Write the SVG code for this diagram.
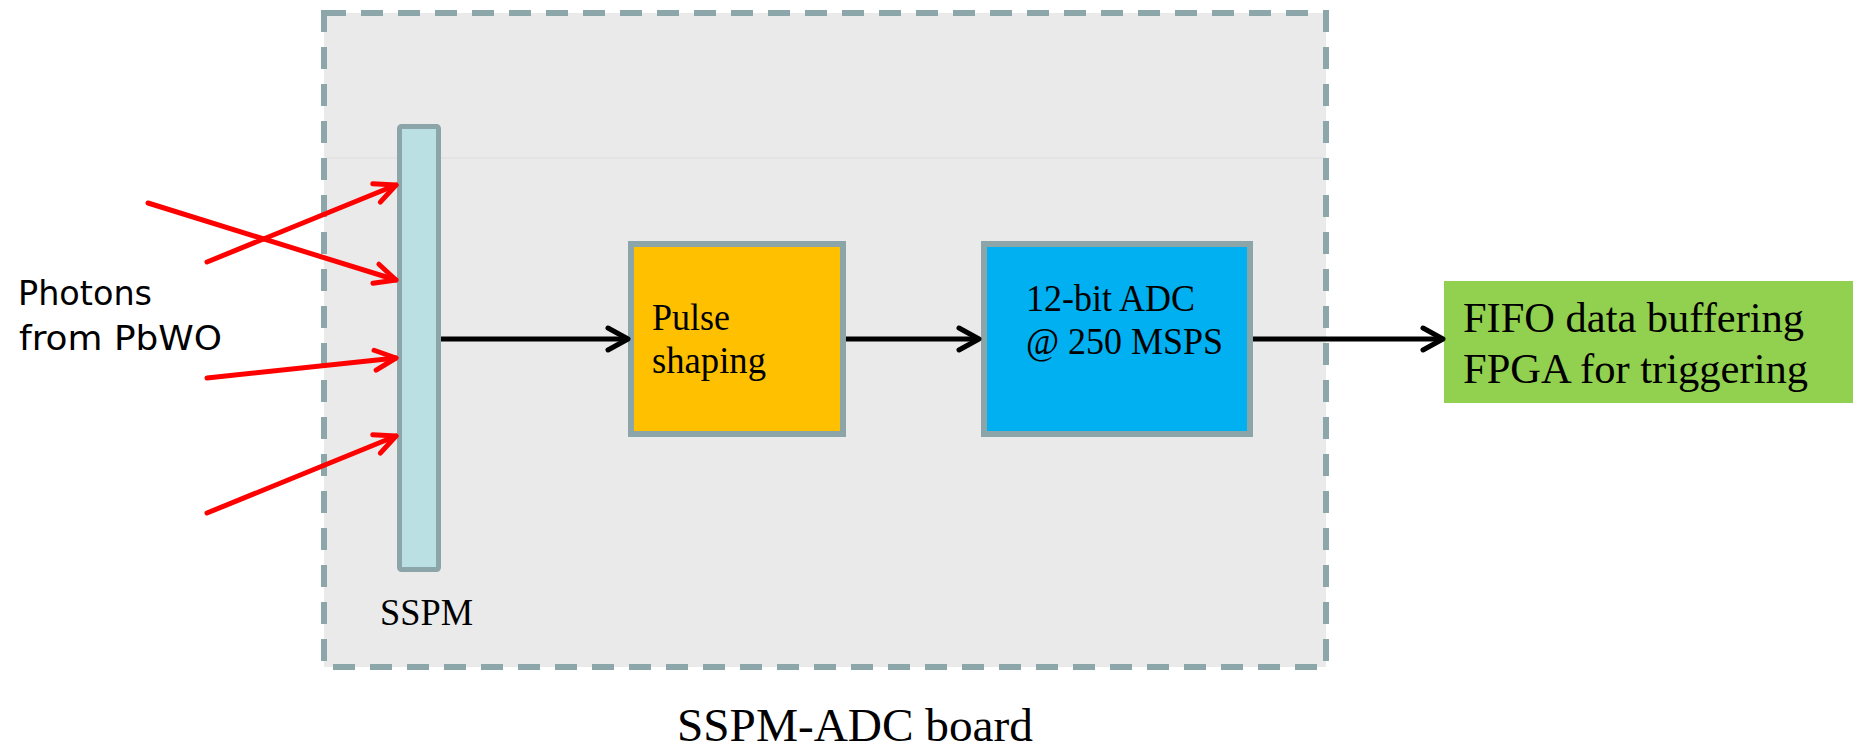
<svg xmlns="http://www.w3.org/2000/svg" width="1860" height="748" viewBox="0 0 1860 748">
<defs>
<style>
.serif{font-family:"Liberation Serif","Times New Roman",serif;fill:#000}
.hand{font-family:"Comic Sans MS","DejaVu Sans",sans-serif;fill:#000;font-size:33px}
.red{stroke:#FF0000;stroke-width:5;fill:none;stroke-linecap:round}
.blk{stroke:#000;stroke-width:5;fill:none}
.box{stroke:#8CA5A8;stroke-width:6}
</style>
<marker id="redHead" markerUnits="userSpaceOnUse" markerWidth="40" markerHeight="40" viewBox="-30 -20 40 40" refX="0" refY="0" orient="auto" overflow="visible">
<path d="M-21,-10 L0,0 L-21,10" fill="none" stroke="#FF0000" stroke-width="5" stroke-linecap="round" stroke-linejoin="round"/>
</marker>
<marker id="blkHead" markerUnits="userSpaceOnUse" markerWidth="40" markerHeight="40" viewBox="-30 -20 40 40" refX="0" refY="0" orient="auto" overflow="visible">
<path d="M-20,-11 L0,0 L-20,11" fill="none" stroke="#000" stroke-width="5" stroke-linecap="round" stroke-linejoin="round"/>
</marker>
</defs>
<rect width="1860" height="748" fill="#FFFFFF"/>
<g id="board">
<rect x="324" y="13" width="1002" height="654" fill="#EAEAEA" stroke="#8DA6A9" stroke-width="6" stroke-dasharray="22 15"/>
<line x1="327" y1="158" x2="1323" y2="158" stroke="#DDDDDD" stroke-width="1"/>
<text class="serif" x="677" y="741" font-size="46" textLength="356" lengthAdjust="spacingAndGlyphs">SSPM-ADC board</text>
</g>
<g id="photons-label">
<text class="hand" x="18" y="305" textLength="134" lengthAdjust="spacingAndGlyphs">Photons</text>
<text class="hand" x="19" y="350" textLength="203" lengthAdjust="spacingAndGlyphs">from PbWO</text>
</g>
<g id="sspm">
<rect x="399.5" y="126.5" width="39" height="443" rx="2" fill="#BBE0E3" stroke="#8CA5A8" stroke-width="5"/>
<text class="serif" x="380" y="625" font-size="37" textLength="93" lengthAdjust="spacingAndGlyphs">SSPM</text>
</g>
<g id="pulse-shaping">
<rect class="box" x="631" y="244" width="212" height="190" fill="#FFC000"/>
<text class="serif" x="652" y="330" font-size="37" textLength="78" lengthAdjust="spacingAndGlyphs">Pulse</text>
<text class="serif" x="652" y="373" font-size="37" textLength="114" lengthAdjust="spacingAndGlyphs">shaping</text>
</g>
<g id="adc">
<rect class="box" x="984" y="244" width="266" height="190" fill="#00B0F0"/>
<text class="serif" x="1026" y="311" font-size="37" textLength="169" lengthAdjust="spacingAndGlyphs">12-bit ADC</text>
<text class="serif" x="1026" y="354" font-size="37" textLength="197" lengthAdjust="spacingAndGlyphs">@ 250 MSPS</text>
</g>
<g id="fifo-fpga">
<rect x="1444" y="281" width="409" height="122" fill="#92D050"/>
<text class="serif" x="1463" y="332" font-size="42" textLength="341" lengthAdjust="spacingAndGlyphs">FIFO data buffering</text>
<text class="serif" x="1463" y="383" font-size="42" textLength="345" lengthAdjust="spacingAndGlyphs">FPGA for triggering</text>
</g>
<g id="connectors">
<line class="red" x1="148" y1="203" x2="396" y2="280" marker-end="url(#redHead)"/>
<line class="red" x1="207" y1="262" x2="396" y2="185" marker-end="url(#redHead)"/>
<line class="red" x1="207" y1="378" x2="396" y2="358" marker-end="url(#redHead)"/>
<line class="red" x1="207" y1="513" x2="396" y2="436" marker-end="url(#redHead)"/>
<line class="blk" x1="441" y1="339" x2="628" y2="339" marker-end="url(#blkHead)"/>
<line class="blk" x1="846" y1="339" x2="979" y2="339" marker-end="url(#blkHead)"/>
<line class="blk" x1="1253" y1="339" x2="1443" y2="339" marker-end="url(#blkHead)"/>
</g>
</svg>
